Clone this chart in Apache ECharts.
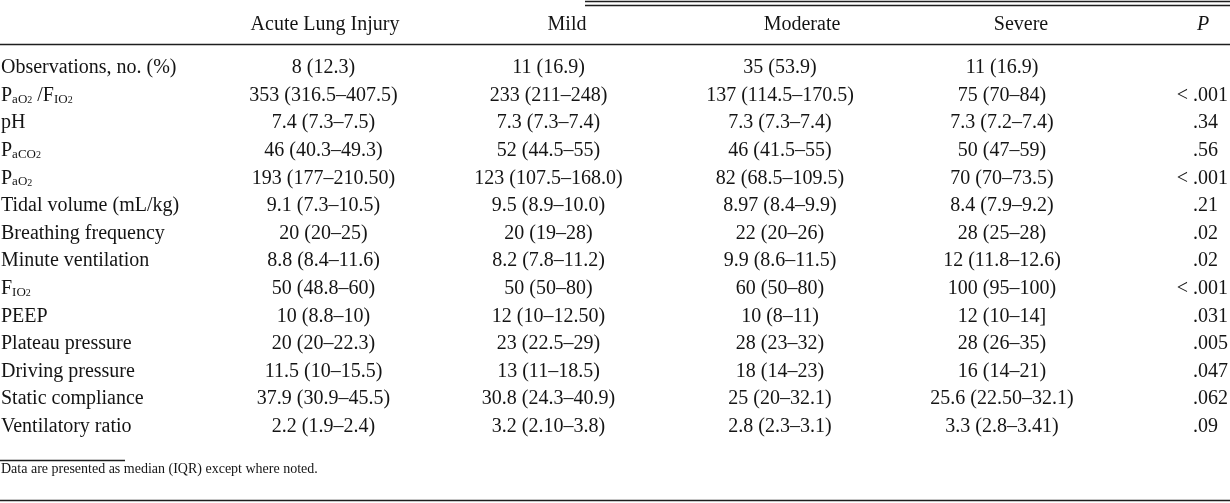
<!DOCTYPE html>
<html>
<head>
<meta charset="utf-8">
<script src="https://cdn.jsdelivr.net/npm/echarts@6/dist/echarts.min.js"></script>
<style>
html,body{margin:0;padding:0;background:#fff;}
#chart{width:1230px;height:503px;}
</style>
</head>
<body>
<div id="chart"></div>
<script>
// ---- data ----
const categories = ['Acute Lung Injury', 'Mild', 'Moderate', 'Severe', 'P'];
const rowLabels = [
  'Observations, no. (%)',
  'PaO2/FIO2',
  'pH',
  'PaCO2',
  'PaO2',
  'Tidal volume (mL/kg)',
  'Breathing frequency',
  'Minute ventilation',
  'FIO2',
  'PEEP',
  'Plateau pressure',
  'Driving pressure',
  'Static compliance',
  'Ventilatory ratio'
];
const acuteLungInjury = ['8 (12.3)', '353 (316.5–407.5)', '7.4 (7.3–7.5)', '46 (40.3–49.3)', '193 (177–210.50)', '9.1 (7.3–10.5)', '20 (20–25)', '8.8 (8.4–11.6)', '50 (48.8–60)', '10 (8.8–10)', '20 (20–22.3)', '11.5 (10–15.5)', '37.9 (30.9–45.5)', '2.2 (1.9–2.4)'];
const mild = ['11 (16.9)', '233 (211–248)', '7.3 (7.3–7.4)', '52 (44.5–55)', '123 (107.5–168.0)', '9.5 (8.9–10.0)', '20 (19–28)', '8.2 (7.8–11.2)', '50 (50–80)', '12 (10–12.50)', '23 (22.5–29)', '13 (11–18.5)', '30.8 (24.3–40.9)', '3.2 (2.10–3.8)'];
const moderate = ['35 (53.9)', '137 (114.5–170.5)', '7.3 (7.3–7.4)', '46 (41.5–55)', '82 (68.5–109.5)', '8.97 (8.4–9.9)', '22 (20–26)', '9.9 (8.6–11.5)', '60 (50–80)', '10 (8–11)', '28 (23–32)', '18 (14–23)', '25 (20–32.1)', '2.8 (2.3–3.1)'];
const severe = ['11 (16.9)', '75 (70–84)', '7.3 (7.2–7.4)', '50 (47–59)', '70 (70–73.5)', '8.4 (7.9–9.2)', '28 (25–28)', '12 (11.8–12.6)', '100 (95–100)', '12 (10–14]', '28 (26–35)', '16 (14–21)', '25.6 (22.50–32.1)', '3.3 (2.8–3.41)'];
const pValues = ['', '< .001', '.34', '.56', '< .001', '.21', '.02', '.02', '< .001', '.031', '.005', '.047', '.062', '.09'];
const footnote = 'Data are presented as median (IQR) except where noted.';

// ---- layout / style ----
const FONT = '"Liberation Serif", "Times New Roman", serif';
const FS = 20;
const INK = '#141414';
const labelX = 1;
const colCenters = [323.5, 548.5, 780, 1002];
const headerCenters = [325, 567, 802, 1021, 1203];
const pDotX = 1193;
const headerY = 25;

// rich text versions of labels with subscripts
const richLabel = {
  'PaO2/FIO2': '{m|P}{s|aO}{ss|2}{m| /F}{s|IO}{ss|2}',
  'PaCO2': '{m|P}{s|aCO}{ss|2}',
  'PaO2': '{m|P}{s|aO}{ss|2}',
  'FIO2': '{m|F}{s|IO}{ss|2}'
};
const rich = {
  m: {fontSize: FS, fontFamily: FONT, color: INK, lineHeight: 24, verticalAlign: 'bottom'},
  s: {fontSize: 13, fontFamily: FONT, color: INK, lineHeight: 12, verticalAlign: 'bottom'},
  ss: {fontSize: 10, fontFamily: FONT, color: INK, lineHeight: 4, verticalAlign: 'bottom'}
};

const columns = [acuteLungInjury, mild, moderate, severe];
const cells = [];
rowLabels.forEach(function (lab, r) {
  cells.push([labelX, r, lab, 'label']);
  columns.forEach(function (col, c) {
    cells.push([colCenters[c], r, col[r], 'value']);
  });
  if (pValues[r]) cells.push([pDotX, r, pValues[r], 'p']);
});

function renderItem(params, api) {
  const x = api.value(0);
  const r = api.value(1);
  const d = cells[params.dataIndex];
  const pt = api.coord([x, r]);
  const base = {fontFamily: FONT, fontSize: FS, fill: INK, verticalAlign: 'middle'};
  if (d[3] === 'label') {
    if (richLabel[d[2]]) {
      return {type: 'text', x: pt[0], y: pt[1] - 2, style: Object.assign({}, base, {text: richLabel[d[2]], rich: rich, align: 'left'})};
    }
    return {type: 'text', x: pt[0], y: pt[1], style: Object.assign({}, base, {text: d[2], align: 'left'})};
  }
  if (d[3] === 'value') {
    return {type: 'text', x: pt[0], y: pt[1], style: Object.assign({}, base, {text: d[2], align: 'center'})};
  }
  // p value aligned on decimal point
  const s = d[2];
  const i = s.indexOf('.');
  const pre = s.slice(0, i);
  const rest = s.slice(i);
  const children = [
    {type: 'text', x: pt[0], y: pt[1], style: Object.assign({}, base, {text: rest, align: 'left'})}
  ];
  if (pre) children.push({type: 'text', x: pt[0], y: pt[1], style: Object.assign({}, base, {text: pre, align: 'right'})});
  return {type: 'group', children: children};
}

const chart = echarts.init(document.getElementById('chart'), null, {renderer: 'canvas'});

const headerGraphics = categories.map(function (c, i) {
  return {
    type: 'text', x: headerCenters[i], y: headerY,
    style: {text: c, fontFamily: FONT, fontSize: FS, fill: INK, align: 'center', verticalAlign: 'middle',
      fontStyle: c === 'P' ? 'italic' : 'normal'}
  };
});
const lineStyle = {stroke: '#1e1e1e', lineWidth: 1.6};
const rules = [
  {type: 'line', shape: {x1: 585, y1: 1.5, x2: 1230, y2: 1.5}, style: {stroke: '#1e1e1e', lineWidth: 1.4}},
  {type: 'line', shape: {x1: 585, y1: 5.5, x2: 1230, y2: 5.5}, style: {stroke: '#1e1e1e', lineWidth: 1.4}},
  {type: 'line', shape: {x1: 0, y1: 44.5, x2: 1230, y2: 44.5}, style: lineStyle},
  {type: 'line', shape: {x1: 0, y1: 460.5, x2: 125, y2: 460.5}, style: {stroke: '#1e1e1e', lineWidth: 1.3}},
  {type: 'line', shape: {x1: 0, y1: 500.5, x2: 1230, y2: 500.5}, style: lineStyle},
  {type: 'text', x: 1, y: 469, style: {text: footnote, fontFamily: FONT, fontSize: 14, fill: INK, align: 'left', verticalAlign: 'middle'}}
];

chart.setOption({
  animation: false,
  backgroundColor: '#ffffff',
  grid: {left: 0, right: 0, top: 54.2, height: 386.4},
  xAxis: {type: 'value', min: 0, max: 1230, show: false},
  yAxis: {type: 'category', data: rowLabels, inverse: true, show: false},
  graphic: headerGraphics.concat(rules),
  series: [{
    type: 'custom',
    renderItem: renderItem,
    encode: {x: 0, y: 1},
    data: cells.map(function (c) { return [c[0], c[1]]; }),
    clip: false
  }]
});
</script>
</body>
</html>
